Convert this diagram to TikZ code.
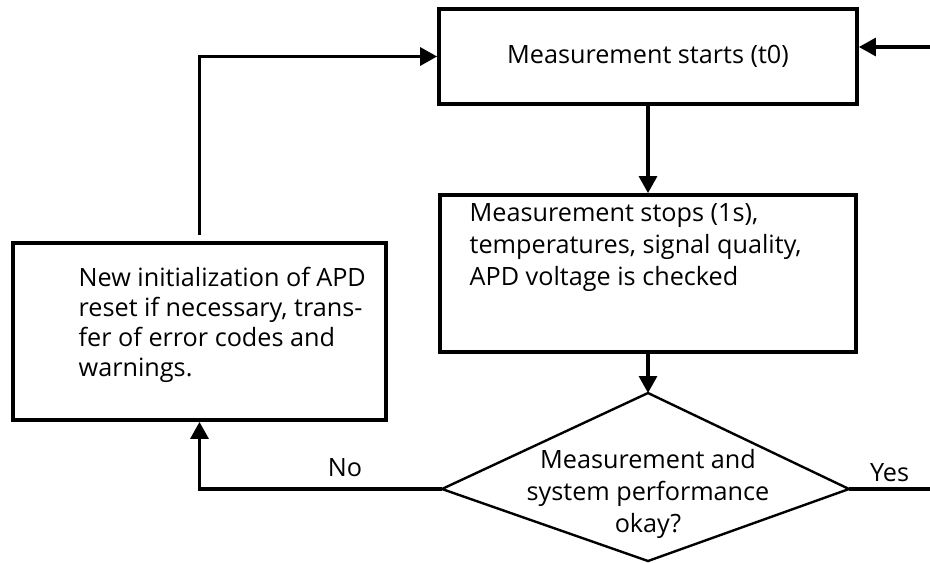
\documentclass[tikz,border=0pt]{standalone}
\usepackage{fontspec}
\setmainfont{Open Sans}
\usetikzlibrary{arrows.meta}

\begin{document}
\begin{tikzpicture}[->,>={Triangle[length=8.5pt,width=9pt]},x=0.5pt,y=-0.5pt,
                    line width=1.6pt,font=\fontsize{12.6}{16}\selectfont]
  \tikzstyle{box}=[rectangle,draw=black,line width=1.9pt,inner sep=0pt]
  \tikzstyle{txt}=[align=left,inner sep=0pt,anchor=north west]
  \tikzstyle{decision}=[draw=black,line width=1.2pt,-]
  \tikzstyle{lbl}=[inner sep=0pt]

  \useasboundingbox (0,0) rectangle (930,562);

  \node[box,minimum width=209pt,minimum height=47.5pt] (A) at (648,56.5)
    {Measurement starts (t0)};
  \node[box,minimum width=208pt,minimum height=78.5pt] (B) at (648,273.5)
    [label={[txt,xshift=15pt,yshift=-4.5pt]north west:{Measurement stops (1s),\\temperatures, signal quality,\\APD voltage is checked}}] {};
  \node[box,minimum width=186.5pt,minimum height=88.5pt] (C) at (199.5,331.5)
    [label={[txt,font=\fontsize{12.6}{15}\selectfont,xshift=33pt,yshift=-12.5pt]north west:{New initialization of APD\\reset if necessary, trans-\\fer of error codes and\\warnings.}}] {};

  % decision
  \coordinate (Dt) at (648,393);
  \coordinate (Dr) at (849,489);
  \coordinate (Db) at (648,561);
  \coordinate (Dl) at (442,489);
  \draw[decision] (Dt) -- (Dr) -- (Db) -- (Dl) -- cycle;
  \node[lbl,align=center] (D) at (648,494) {Measurement and\\system performance\\okay?};

  \coordinate (in) at (930,47);
  \coordinate (out) at (930,489);

  \draw (in) -- (in -| A.east);
  \draw (A) -- (B);
  \draw (B) -- (Dt);
  \draw (Dl) -| node[lbl,pos=0.2,yshift=10.5pt] {No} (C.south);
  \draw[-] (Dr) -- node[lbl,yshift=8pt] {Yes} (out);
  \draw[shorten <=3pt] (C.north) |- (A.west);
\end{tikzpicture}
\end{document}
